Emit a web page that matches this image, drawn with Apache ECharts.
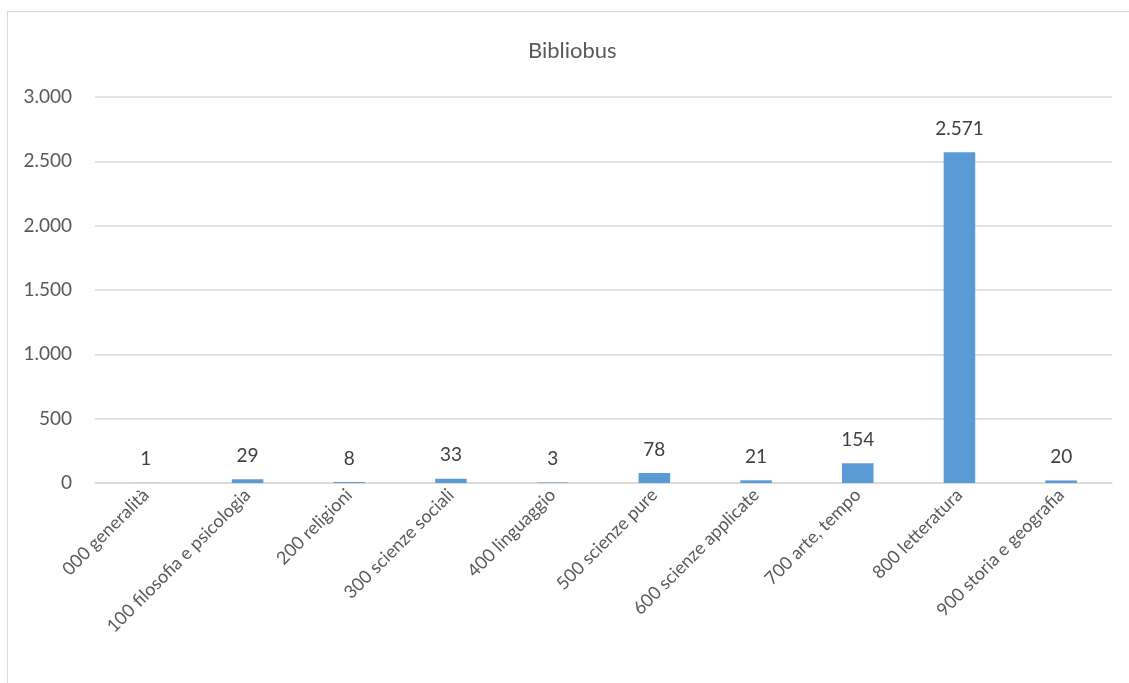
<!DOCTYPE html>
<html>
<head>
    <meta charset="utf-8">
    <title>Bibliobus</title>
    <script src="https://cdn.jsdelivr.net/npm/echarts@6/dist/echarts.min.js"></script>
    <style>
        html, body {
            margin: 0;
            padding: 0;
            background: #ffffff;
            overflow: hidden;
        }

        .frame {
            position: absolute;
            left: 7px;
            top: 11px;
            width: 1200px;
            height: 720px;
            border: 1px solid #d9d9d9;
            box-sizing: border-box;
        }

        #chart {
            position: absolute;
            left: 0;
            top: 0;
            width: 1129px;
            height: 683px;
        }
    </style>
</head>
<body>
<div class="frame"></div>
<div id="chart"></div>
<script>
    // categorie Dewey e numero di volumi
    var categories = ['000 generalità', '100 filosofia e psicologia', '200 religioni', '300 scienze sociali',
        '400 linguaggio', '500 scienze pure', '600 scienze applicate', '700 arte, tempo',
        '800 letteratura', '900 storia e geografia'];
    var volumi = [1, 29, 8, 33, 3, 78, 21, 154, 2571, 20];

    // formato italiano con il punto per le migliaia
    function fmt(v) {
        return String(v).replace(/\B(?=(\d{3})+(?!\d))/g, '.');
    }

    var chart = echarts.init(document.getElementById('chart'));

    var option = {
        animation: false,
        textStyle: {fontFamily: 'Lato, "Open Sans", sans-serif'},
        title: {
            text: 'Bibliobus',
            left: 528,
            top: 40,
            padding: 0,
            textStyle: {fontSize: 22, fontWeight: 'normal', color: '#595959', fontFamily: 'Lato, sans-serif'}
        },
        grid: {left: 95, right: 17, top: 97, bottom: 200, containLabel: false},
        xAxis: {
            type: 'category',
            data: categories,
            axisLine: {lineStyle: {color: '#d9d9d9', width: 1.5}},
            axisTick: {show: false},
            axisLabel: {
                rotate: 45,
                interval: 0,
                margin: 9,
                fontSize: 18,
                color: '#595959'
            }
        },
        yAxis: {
            type: 'value',
            min: 0,
            max: 3000,
            interval: 500,
            axisLine: {show: false},
            axisTick: {show: false},
            splitLine: {lineStyle: {color: '#d9d9d9', width: 1.5}},
            axisLabel: {
                margin: 23,
                fontSize: 19,
                color: '#595959',
                formatter: fmt
            }
        },
        series: [{
            type: 'bar',
            data: volumi,
            barWidth: '31%',
            itemStyle: {color: '#5b9bd5'},
            label: {
                show: true,
                position: 'top',
                distance: 14,
                fontSize: 19,
                color: '#404040',
                formatter: function (p) {
                    return fmt(p.value);
                }
            }
        }]
    };

    chart.setOption(option);
</script>
</body>
</html>
